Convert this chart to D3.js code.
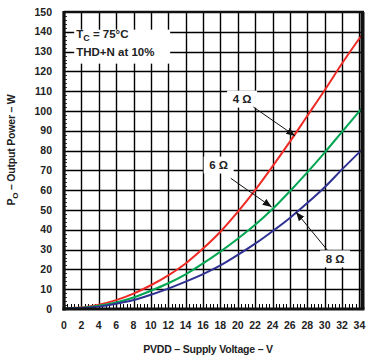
<!DOCTYPE html>
<html><head><meta charset="utf-8">
<script src="https://cdn.jsdelivr.net/npm/d3@7"></script>
<style>
html,body{margin:0;padding:0;background:#fff;}
svg{display:block;font-family:"Liberation Sans",Arial,sans-serif;font-weight:bold;}
</style></head>
<body><svg id="c" width="380" height="360"></svg>
<script>
const voltage = [0,2,4,6,8,10,12,14,16,18,20,22,24,26,28,30,32,34.3];
const power4 = [0.5,0.8,2.2,4.5,7.8,12,17,23,30.5,39,49,60,72,84.5,97.5,110.5,124,138.5];
const power6 = [0.4,0.6,1.6,3.3,5.8,9.2,13,17.5,23,29,35.5,42.5,50.5,59.5,69,79,89.5,101.5];
const power8 = [0.3,0.5,1.2,2.6,4.5,7.2,10.3,13.8,17.6,22,27.3,33,39.3,46,53.5,61.5,70.5,80.5];
const seriesNames = ["4 Ω","6 Ω","8 Ω"];
const seriesColors = ["#ee2a24","#00a651","#2e3192"];
const xTicks = [0,2,4,6,8,10,12,14,16,18,20,22,24,26,28,30,32,34];
const yTicks = [0,10,20,30,40,50,60,70,80,90,100,110,120,130,140,150];
// annotation anchors in data units: [labelV,labelP,startV,startP,tipV,tipP]
const annV = [[20.5,106,21.8,102,26.6,87.4],[17.8,72.7,19.2,66,23.9,51.5],[31.2,25.3,30.3,29.8,26.7,49]];

const svg = d3.select("#c");
const L=64,R=362,T=12,B=309;
const x = d3.scaleLinear().domain([0,34.3]).range([L,R]);
const y = d3.scaleLinear().domain([0,150]).range([B,T]);
const px = v => Math.round(v)+0.5;

// grid
const g = svg.append("g");
g.selectAll("line.v").data(xTicks.filter(d=>d>0)).join("line")
 .attr("x1",d=>px(x(d))).attr("x2",d=>px(x(d))).attr("y1",T).attr("y2",B)
 .attr("stroke","#000").attr("stroke-width",1.4);
g.selectAll("line.h").data(yTicks.filter(d=>d>0&&d<150)).join("line")
 .attr("x1",L).attr("x2",R).attr("y1",d=>px(y(d))).attr("y2",d=>px(y(d)))
 .attr("stroke","#000").attr("stroke-width",1.4);
// minor ticks
const minorX = d3.range(0,34.3,0.4).filter(d=>Math.abs(d/2-Math.round(d/2))>0.01);
g.selectAll("line.mx").data(minorX).join("line")
 .attr("x1",d=>px(x(d))).attr("x2",d=>px(x(d))).attr("y1",B).attr("y2",B-5)
 .attr("stroke","#000").attr("stroke-width",1);
const minorY = d3.range(0,150,2).filter(d=>d%10!==0);
g.selectAll("line.my").data(minorY).join("line")
 .attr("x1",L).attr("x2",L+3).attr("y1",d=>px(y(d))).attr("y2",d=>px(y(d)))
 .attr("stroke","#000").attr("stroke-width",0.8);

// white boxes for text
function box(cx,cy,w,h){svg.append("rect").attr("x",cx-w/2).attr("y",cy-h/2).attr("width",w).attr("height",h).attr("fill","#fff");}
box(x(1.4)+46, y(132.5), 96, 34);

// curves
const all = [power4,power6,power8];
const line = d3.line().x((d,i)=>x(voltage[i])).y(d=>y(d)).curve(d3.curveMonotoneX);
all.forEach((s,k)=>{
  svg.append("path").attr("d",line(s)).attr("fill","none")
   .attr("stroke",seriesColors[k]).attr("stroke-width",2);
});

// frame
svg.append("line").attr("x1",L).attr("x2",R+2).attr("y1",T).attr("y2",T).attr("stroke","#111").attr("stroke-width",2.7);
svg.append("line").attr("x1",R+0.5).attr("x2",R+0.5).attr("y1",T).attr("y2",B).attr("stroke","#111").attr("stroke-width",4);
svg.append("line").attr("x1",L).attr("x2",L).attr("y1",T-1).attr("y2",B+1.5).attr("stroke","#111").attr("stroke-width",3.3);
svg.append("line").attr("x1",L-1.5).attr("x2",R+2.5).attr("y1",B).attr("y2",B).attr("stroke","#111").attr("stroke-width",3);

// tick labels
svg.append("g").selectAll("text").data(yTicks).join("text")
 .attr("x",L-12).attr("y",d=>y(d)+3.6).attr("text-anchor","end")
 .attr("font-size",10.5).attr("fill","#222").text(d=>d);
svg.append("g").selectAll("text").data(xTicks).join("text")
 .attr("x",d=>x(d)).attr("y",B+20).attr("text-anchor","middle")
 .attr("font-size",10.5).attr("fill","#222").text(d=>d);

// axis titles
svg.append("text").attr("x",208).attr("y",353).attr("text-anchor","middle")
 .attr("font-size",10.5).attr("letter-spacing",-0.2).attr("fill","#222").text("PVDD – Supply Voltage – V");
const yt = svg.append("text").attr("transform",`translate(15,150) rotate(-90)`)
 .attr("text-anchor","middle").attr("font-size",10.5).attr("letter-spacing",-0.2).attr("fill","#222");
yt.append("tspan").text("P");
yt.append("tspan").attr("font-size",8).attr("dy",3).text("O");
yt.append("tspan").attr("dy",-3).text(" – Output Power – W");

// condition text
const t1 = svg.append("text").attr("x",x(1.4)).attr("y",y(137)).attr("font-size",11.5).attr("fill","#222");
t1.append("tspan").text("T");
t1.append("tspan").attr("font-size",9).attr("dy",3).text("C");
t1.append("tspan").attr("dy",-3).text(" = 75°C");
svg.append("text").attr("x",x(1.4)).attr("y",y(128)).attr("font-size",11.5).attr("fill","#222").text("THD+N at 10%");

// arrow marker
svg.append("defs").append("marker").attr("id","ah").attr("viewBox","0 0 10 10")
 .attr("refX",10).attr("refY",5).attr("markerWidth",9).attr("markerHeight",9)
 .attr("markerUnits","userSpaceOnUse").attr("orient","auto")
 .append("path").attr("d","M0,1 L10,5 L0,9 Z").attr("fill","#111");

annV.forEach((a,k)=>{
  box(x(a[0]), y(a[1]), 30, 17);
  svg.append("line").attr("x1",x(a[2])).attr("y1",y(a[3])).attr("x2",x(a[4])).attr("y2",y(a[5]))
   .attr("stroke","#111").attr("stroke-width",1).attr("marker-end","url(#ah)");
  svg.append("text").attr("x",x(a[0])).attr("y",y(a[1])+4.2).attr("text-anchor","middle")
   .attr("font-size",11.5).attr("fill","#222").text(seriesNames[k]);
});
</script></body></html>
